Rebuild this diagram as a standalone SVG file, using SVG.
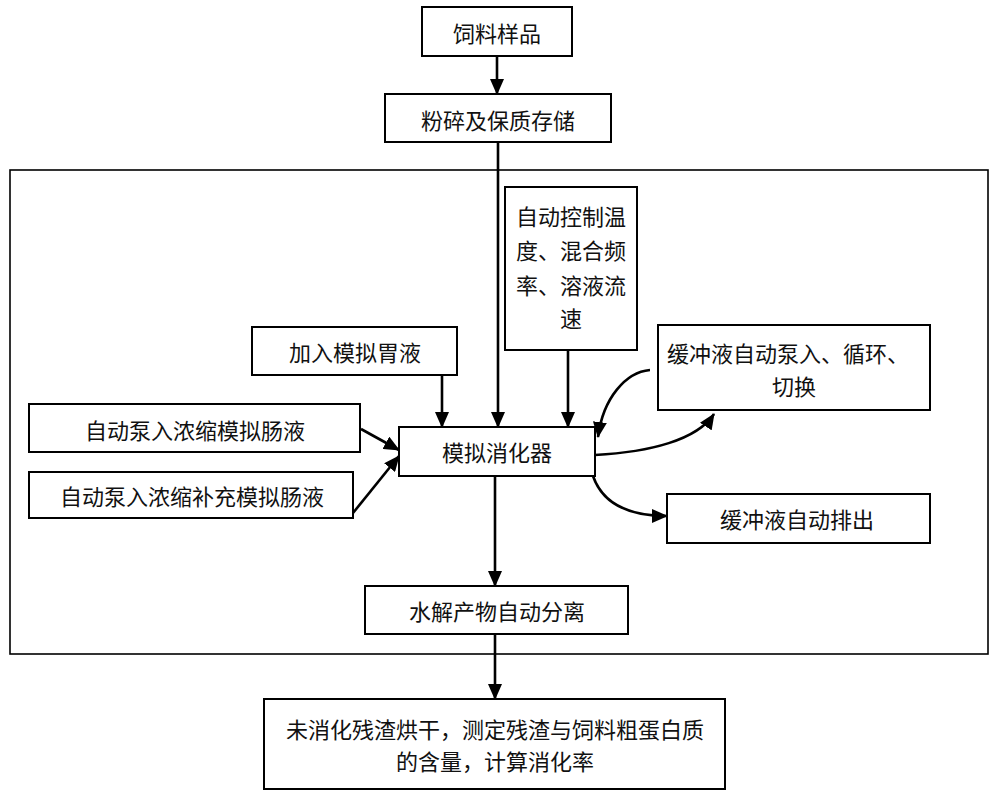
<svg xmlns="http://www.w3.org/2000/svg" width="1000" height="798" viewBox="0 0 1000 798">
<style>
.box{fill:#fff;stroke:#000;stroke-width:2}
.frame{fill:none;stroke:#000;stroke-width:1.6}
.t{font-family:"Noto Sans CJK SC","Liberation Serif",serif;font-size:22px;fill:#111;text-anchor:middle;dominant-baseline:central}
.c{fill:none;stroke:#000;stroke-width:2.6;marker-end:url(#ah)}
</style>
<defs>
<marker id="ah" markerUnits="userSpaceOnUse" markerWidth="16" markerHeight="14" refX="15" refY="7" orient="auto" viewBox="0 0 16 14">
<path d="M0,0 L16,7 L0,14 z" fill="#000"/>
</marker>
</defs>
<rect class="frame" x="10" y="170" width="978" height="484"/>
<g id="connectors">
<line class="c" x1="497" y1="56" x2="497" y2="94"/>
<line class="c" x1="498" y1="142" x2="498" y2="427"/>
<line class="c" x1="568" y1="350" x2="568" y2="427"/>
<line class="c" x1="442" y1="375" x2="442" y2="427"/>
<line class="c" x1="361" y1="429" x2="399" y2="450"/>
<line class="c" x1="353" y1="513" x2="399" y2="456"/>
<path class="c" d="M650,370 C626,372 603,398 598,437"/>
<path class="c" d="M595,455 C650,452 697,440 714,414"/>
<path class="c" d="M593,476 C602,502 625,516 667,516"/>
<line class="c" x1="495" y1="476" x2="495" y2="586"/>
<line class="c" x1="495" y1="634" x2="495" y2="699"/>
</g>
<g id="n1"><rect class="box" x="422" y="7" width="150" height="49"/><text class="t" x="497" y="32">饲料样品</text></g>
<g id="n2"><rect class="box" x="385" y="94" width="226" height="48"/><text class="t" x="498" y="119">粉碎及保质存储</text></g>
<g id="n3"><rect class="box" x="505" y="187" width="132" height="163"/>
<text class="t" x="571" y="215">自动控制温</text>
<text class="t" x="571" y="249">度、混合频</text>
<text class="t" x="571" y="284">率、溶液流</text>
<text class="t" x="571" y="317">速</text></g>
<g id="n4"><rect class="box" x="252" y="327" width="205" height="48"/><text class="t" x="355" y="351">加入模拟胃液</text></g>
<g id="n5"><rect class="box" x="29" y="404" width="331" height="48"/><text class="t" x="195" y="429">自动泵入浓缩模拟肠液</text></g>
<g id="n6"><rect class="box" x="29" y="472" width="324" height="46"/><text class="t" x="192" y="495">自动泵入浓缩补充模拟肠液</text></g>
<g id="n7"><rect class="box" x="399" y="427" width="196" height="49"/><text class="t" x="497" y="451">模拟消化器</text></g>
<g id="n8"><rect class="box" x="658" y="325" width="272" height="85"/>
<text class="t" x="788" y="352">缓冲液自动泵入、循环、</text>
<text class="t" x="794" y="385">切换</text></g>
<g id="n9"><rect class="box" x="667" y="494" width="263" height="49"/><text class="t" x="797" y="518">缓冲液自动排出</text></g>
<g id="n10"><rect class="box" x="365" y="586" width="263" height="48"/><text class="t" x="497" y="610">水解产物自动分离</text></g>
<g id="n11"><rect class="box" x="264" y="699" width="461" height="90"/>
<text class="t" x="495" y="728">未消化残渣烘干，测定残渣与饲料粗蛋白质</text>
<text class="t" x="495" y="760">的含量，计算消化率</text></g>
</svg>
